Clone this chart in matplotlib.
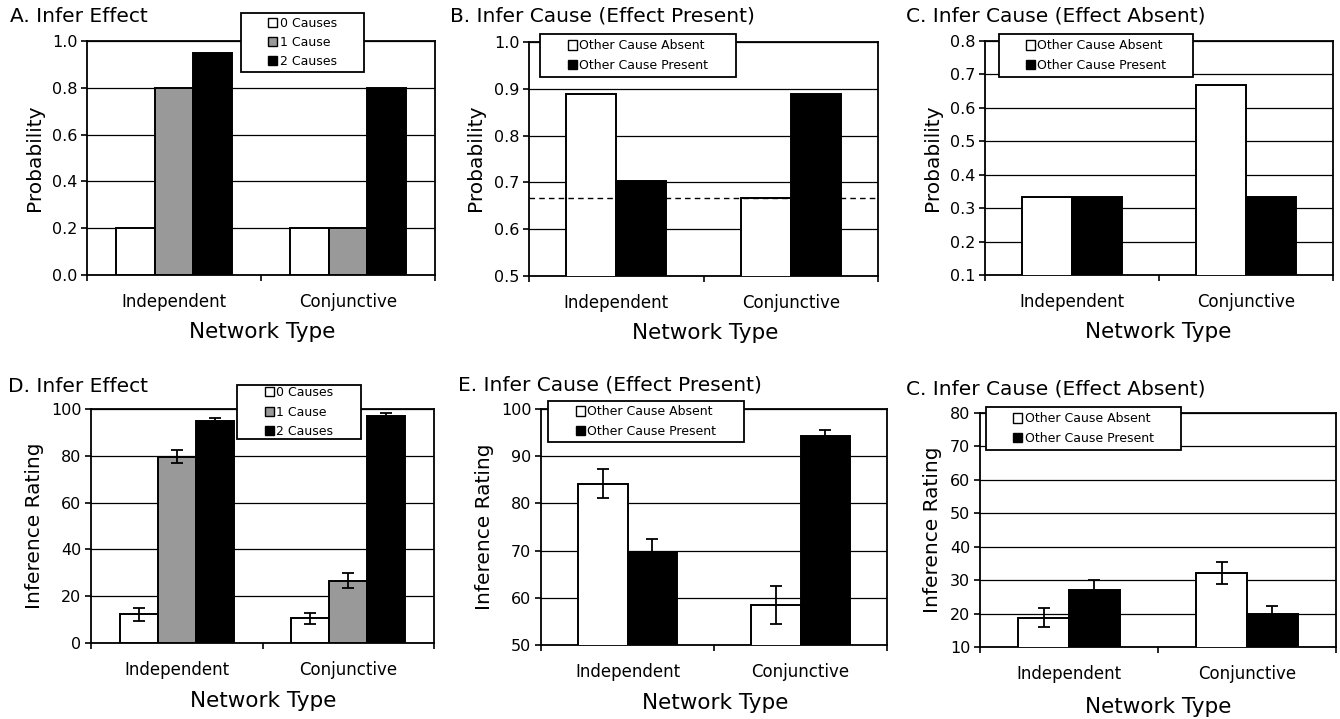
import numpy as np
import matplotlib
matplotlib.use('Agg')
from matplotlib import pyplot as plt
from matplotlib.patches import Rectangle

W, H = 1340, 719

groups = ['Independent', 'Conjunctive']
effect_labels = ['0 Causes', '1 Cause', '2 Causes']
cause_labels = ['Other Cause Absent', 'Other Cause Present']
effect_colors = ['white', '#999999', 'black']
cause_colors = ['white', 'black']

# model predictions (one row per series: [Independent, Conjunctive])
probA = [[0.2, 0.2], [0.8, 0.2], [0.95, 0.8]]
probB = [[0.889, 0.667], [0.704, 0.889]]
probC = [[0.333, 0.667], [0.333, 0.333]]
baseline_B = 0.667

# observed ratings with standard errors
ratingD = [[12.3, 10.6], [79.7, 26.7], [94.7, 96.9]]
errD = [[2.7, 2.3], [2.9, 3.4], [1.5, 1.4]]
ratingE = [[84.2, 58.5], [69.7, 94.2]]
errE = [[3.1, 4.0], [2.7, 1.3]]
ratingF = [[18.8, 32.1], [27.0, 20.0]]
errF = [[2.9, 3.4], [3.1, 2.4]]


def fr(x0, y0, x1, y1):
    # pixel box -> figure fraction rect
    return [x0 / W, 1 - y1 / H, (x1 - x0) / W, (y1 - y0) / H]


def panel(box, title, tpos, vals, errs, labels, colors, ylim, yticks, fmt,
          ylabel, ylpos, xlpos, legbox):
    ax = fig.add_axes(fr(*box))
    n = len(vals)
    w = 1.0 / (n + 1.5)
    x = np.arange(len(groups)) + 0.5
    for k in range(n):
        pos = x + (k - (n - 1) / 2) * w
        ax.bar(pos, vals[k], w, bottom=0, color=colors[k], edgecolor='black',
               linewidth=1.4, zorder=3, label=labels[k])
        if errs is not None:
            ax.errorbar(pos, vals[k], yerr=errs[k], fmt='none', ecolor='black',
                        elinewidth=1.3, capsize=4, capthick=1.3, zorder=4)
    ax.set_xlim(0, 2)
    ax.set_ylim(*ylim)
    ax.set_yticks(yticks)
    ax.set_yticklabels([fmt % t for t in yticks], fontsize=11.5)
    ax.yaxis.grid(True, color='black', linewidth=0.9)
    ax.set_axisbelow(True)
    ax.set_xticks(x)
    ax.set_xticklabels(groups, fontsize=12)
    ax.set_xticks([0, 1, 2], minor=True)
    ax.tick_params(axis='x', which='major', length=0, pad=13)
    ax.tick_params(axis='x', which='minor', length=4, width=1.2, direction='out')
    ax.tick_params(axis='y', length=4, width=1.2, direction='out', pad=3)
    for s in ax.spines.values():
        s.set_linewidth(1.3)
    fig.text(tpos[0] / W, 1 - tpos[1] / H, title, fontsize=14.5, ha='left', va='center')
    fig.text(ylpos[0] / W, 1 - ylpos[1] / H, ylabel, fontsize=14.5, rotation=90,
             ha='center', va='center')
    fig.text(xlpos[0] / W, 1 - xlpos[1] / H, 'Network Type', fontsize=15.5,
             ha='center', va='center')
    x0, y0, x1, y1 = legbox
    fig.patches.append(Rectangle((x0 / W, 1 - y1 / H), (x1 - x0) / W, (y1 - y0) / H,
                                 transform=fig.transFigure, facecolor='white',
                                 edgecolor='black', linewidth=1.3, zorder=4))
    hs = [Rectangle((0, 0), 1, 1, facecolor=c, edgecolor='black', linewidth=1.0)
          for c in colors]
    fig.legend(hs, labels, loc='center', bbox_to_anchor=((x0 + x1) / 2 / W, 1 - (y0 + y1) / 2 / H),
               frameon=False, fontsize=9, handlelength=0.75, handleheight=0.75,
               handletextpad=0.2, labelspacing=0.5, borderpad=0.1)
    return ax


fig = plt.figure(figsize=(W / 100, H / 100), dpi=100)

axB = panel((529, 42, 878, 276), 'B. Infer Cause (Effect Present)', (450, 16), probB, None,
            cause_labels, cause_colors, (0.5, 1.0), [0.5, 0.6, 0.7, 0.8, 0.9, 1.0], '%.1f',
            'Probability', (475, 158), (705, 333), (540, 34, 736, 77))
axB.axhline(baseline_B, color='black', linestyle=(0, (4, 3)), linewidth=1.0, zorder=5)

panel((87, 41, 435, 275), 'A. Infer Effect', (10, 16), probA, None,
      effect_labels, effect_colors, (0, 1.0), [0, 0.2, 0.4, 0.6, 0.8, 1.0], '%.1f',
      'Probability', (35, 158), (262, 332), (241, 13, 364, 72))
panel((985, 41, 1333, 275), 'C. Infer Cause (Effect Absent)', (906, 16), probC, None,
      cause_labels, cause_colors, (0.1, 0.8), [0.1, 0.2, 0.3, 0.4, 0.5, 0.6, 0.7, 0.8], '%.1f',
      'Probability', (932, 158), (1158, 332), (999, 34, 1193, 77))
panel((91, 409, 434, 643), 'D. Infer Effect', (8, 386), ratingD, errD,
      effect_labels, effect_colors, (0, 100), [0, 20, 40, 60, 80, 100], '%d',
      'Inference Rating', (35, 526), (263, 701), (237, 385, 361, 439))
panel((541, 409, 887, 645), 'E. Infer Cause (Effect Present)', (458, 385), ratingE, errE,
      cause_labels, cause_colors, (50, 100), [50, 60, 70, 80, 90, 100], '%d',
      'Inference Rating', (485, 527), (715, 703), (548, 401, 744, 442))
panel((980, 413, 1336, 647), 'C. Infer Cause (Effect Absent)', (906, 389), ratingF, errF,
      cause_labels, cause_colors, (10, 80), [10, 20, 30, 40, 50, 60, 70, 80], '%d',
      'Inference Rating', (933, 530), (1158, 707), (986, 407, 1181, 450))

fig.savefig('out.png', dpi=100, facecolor='white')
